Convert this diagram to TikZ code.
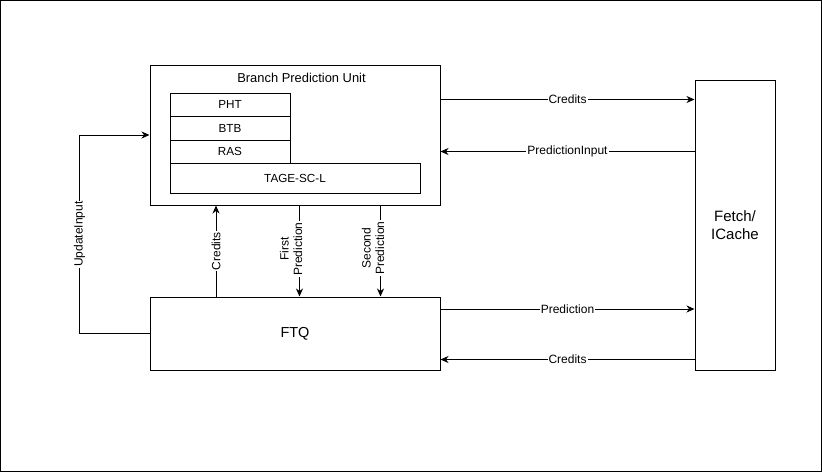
\documentclass[tikz,border=0pt]{standalone}
\usepackage{fontspec}
\setmainfont{Liberation Sans}
\usetikzlibrary{arrows.meta,calc}
\begin{document}
\begin{tikzpicture}[x=1pt,y=-1pt,line width=1pt,
  box/.style={draw,rectangle,inner sep=0pt,font=\fontsize{11.7}{13}\selectfont},
  arr/.style={draw,-{Stealth[length=8pt,width=7pt,inset=2.5pt]}},
  lbl/.style={fill=white,inner sep=1pt,font=\fontsize{12}{13.5}\selectfont,align=center},
  vlbl/.style={lbl,rotate=90}]
\useasboundingbox (0,0) rectangle (822,472);
\draw (0.5,0.5) rectangle (821.5,471.5);
% boxes
\node[box,minimum width=290,minimum height=140] (bpu) at (295,135) {};
\node[font=\fontsize{12.9}{14}\selectfont,inner sep=0pt] (bputitle) at (301.5,78) {Branch Prediction Unit};
\node[box,minimum width=120,minimum height=23] (pht) at (230,104.5) {PHT};
\node[box,minimum width=120,minimum height=24] (btb) at (230,128) {BTB};
\node[box,minimum width=120,minimum height=23] (ras) at (230,151.5) {RAS};
\node[box,minimum width=250,minimum height=30] (tage) at (295,178) {TAGE-SC-L};
\node[box,minimum width=290,minimum height=73,font=\fontsize{14.5}{17}\selectfont] (ftq) at (295,333.5) {FTQ};
\node[box,minimum width=80,minimum height=290,align=center,font=\fontsize{15}{17.5}\selectfont] (fetch) at (735,225) {Fetch/\\ICache};
% horizontal connectors
\draw[arr] (bpu.east |- 0,99.5) -- node[lbl]{Credits} (fetch.west |- 0,99.5);
\draw[arr] (fetch.west |- 0,151.5) -- node[lbl]{PredictionInput} (bpu.east |- 0,151.5);
\draw[arr] (ftq.east |- 0,309) -- node[lbl]{Prediction} (fetch.west |- 0,309);
\draw[arr] (fetch.west |- 0,359.5) -- node[lbl]{Credits} (ftq.east |- 0,359.5);
% vertical connectors
\draw[arr] (ftq.north -| 216,0) -- node[vlbl]{Credits} (bpu.south -| 216,0);
\draw[arr] (bpu.south -| 299.5,0) -- (ftq.north -| 299.5,0);
\node[vlbl] (fp) at (291,249) {First\\Prediction};
\draw[arr] (bpu.south -| 380.5,0) -- (ftq.north -| 380.5,0);
\node[vlbl] (sp) at (373,248) {Second\\Prediction};
% update input
\draw[arr] (ftq.west) -- ++(-70,0) coordinate (ub)
  -- node[vlbl]{UpdateInput} (ub |- bpu.west) -- (bpu.west);
\end{tikzpicture}
\end{document}
